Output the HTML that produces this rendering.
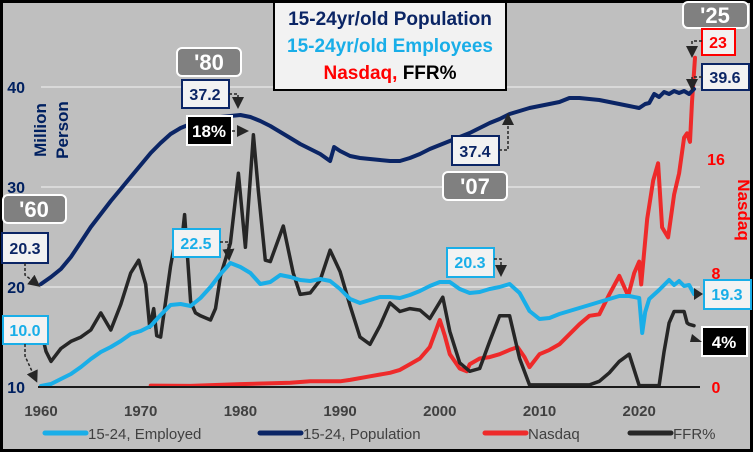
<!DOCTYPE html>
<html><head><meta charset="utf-8">
<style>
html,body{margin:0;padding:0;background:#bfbfbf;}
svg{display:block;font-family:"Liberation Sans",Arial,sans-serif;}
</style></head>
<body>
<svg id="chart" width="753" height="452" viewBox="0 0 753 452">
<rect x="1.5" y="1.5" width="750" height="449" fill="#bfbfbf" stroke="#000" stroke-width="3"/>
<g id="grid"></g>
<g id="series"></g>
<g id="axes"></g>
<g id="notes"></g>
</svg>
<script>
const popYears=[1960,1961,1962,1963,1964,1965,1966,1967,1968,1969,1970,1971,1972,1973,1974,1975,1976,1977,1978,1979,1980,1981,1982,1983,1984,1985,1986,1987,1988,1989,1989.4,1990,1991,1992,1993,1994,1995,1996,1997,1998,1999,2000,2001,2002,2003,2004,2005,2006,2007,2008,2009,2010,2011,2012,2013,2014,2015,2016,2017,2018,2019,2020,2020.6,2021,2021.5,2022,2022.5,2023,2023.5,2024,2024.5,2025,2025.5];
const popValues=[20.3,21,21.8,23,24.5,26,27.3,28.6,29.8,31,32.2,33.4,34.4,35.3,35.9,36.3,36.6,36.9,37,37.1,37.2,37,36.6,36.1,35.5,34.9,34.3,33.8,33.3,32.6,34,33.6,33.1,32.9,32.8,32.7,32.6,32.6,32.9,33.3,33.8,34.2,34.6,35,35.4,35.9,36.4,36.8,37.3,37.6,37.9,38.1,38.3,38.5,38.9,38.9,38.8,38.7,38.5,38.3,38.1,37.9,38.3,38.4,39.3,39,39.5,39.3,39.6,39.4,39.6,39.3,39.8];
const empYears=[1960,1961,1962,1963,1964,1965,1966,1967,1968,1969,1970,1971,1972,1973,1974,1975,1976,1977,1978,1979,1980,1981,1982,1983,1984,1985,1986,1987,1988,1989,1990,1991,1992,1993,1994,1995,1996,1997,1998,1999,2000,2001,2002,2003,2004,2005,2006,2007,2008,2009,2010,2011,2012,2013,2014,2015,2016,2017,2018,2019,2020,2020.3,2020.6,2021,2022,2023,2023.5,2024,2024.5,2025,2025.5];
const empValues=[10.1,10.3,10.8,11.3,12,12.8,13.5,14,14.6,15.3,15.6,16.1,17.2,18.2,18.3,18.1,18.9,20,21.3,22.4,22,21.4,20.3,20.5,21.2,21,20.7,20.6,20.8,20.6,19.8,18.8,18.4,18.7,19,19,18.9,19.2,19.6,20.1,20.5,20.5,19.8,19.4,19.5,19.8,20,20.3,19.4,17.6,16.8,16.9,17.3,17.6,17.9,18.2,18.5,18.8,19.1,19.1,18.9,15.4,17.5,18.8,19.7,20.7,20.2,20.6,20.1,20.2,19.3];
const nasYears=[1971,1975,1980,1985,1987,1990,1991,1993,1995,1996,1997,1998,1999,2000,2000.5,2001,2002,2002.7,2003,2004,2005,2006,2007,2007.8,2008.5,2009,2010,2011,2012,2013,2014,2015,2016,2017,2018,2018.9,2019.5,2020,2020.2,2020.8,2021.4,2021.9,2022.3,2022.9,2023.5,2024,2024.5,2024.8,2025.1,2025.3,2025.6];
const nasValues=[0.1,0.08,0.2,0.3,0.4,0.4,0.5,0.75,1.0,1.2,1.6,2.0,2.8,4.7,3.6,2.3,1.3,1.1,1.6,2.0,2.1,2.3,2.6,2.8,2.1,1.4,2.3,2.6,3.0,3.7,4.4,5.0,5.1,6.5,7.8,6.4,8.0,8.8,7.2,11.8,14.5,15.7,11.2,10.5,13.5,15,17.5,17.8,17.2,20,23.1];
const ffrYears=[1960,1960.5,1961,1962,1963,1964,1965,1966,1967,1968,1969,1969.8,1970.5,1970.9,1971.3,1971.6,1972,1973,1973.6,1974,1974.4,1975,1975.5,1976,1977,1977.5,1978,1979,1979.8,1980.5,1981.3,1981.8,1982.5,1983,1984.3,1985.3,1986,1987,1988,1989,1990,1991,1992,1993,1994,1995,1996,1997,1998,1999,2000.3,2001,2002,2003,2004,2005,2006,2007,2008,2009,2015,2016,2017,2018,2019,2020,2022,2022.5,2023,2023.5,2024.5,2024.8,2025,2025.5];
const ffrValues=[4.0,2.5,1.8,2.7,3.2,3.5,4.0,5.2,4.0,5.8,8.0,8.9,7.2,4.2,5.5,3.6,3.5,8.5,10.8,9.5,12.1,6.0,5.2,5.0,4.7,5.5,7.8,10.1,15.0,9.8,17.7,13.8,8.9,8.8,11.3,8.0,6.5,6.6,7.5,9.6,8.1,5.7,3.5,3.0,4.3,5.9,5.3,5.5,5.4,4.8,6.3,3.9,1.7,1.1,1.3,3.2,5.0,5.0,2.0,0.15,0.15,0.4,1.0,1.8,2.3,0.1,0.1,2.5,4.5,5.3,5.3,4.5,4.4,4.3];
const leftTicks=[10,20,30,40];
const rightTicks=[0,8,16];
const xTicks=[1960,1970,1980,1990,2000,2010,2020];

const NS="http://www.w3.org/2000/svg";
function X(yr){return 41+(yr-1960)*9.97;}
function YL(v){return 387-(v-10)*10;}
function YR(v){return 387-v*14.25;}
function mk(tag,attrs,parent,text){const e=document.createElementNS(NS,tag);for(const k in attrs)e.setAttribute(k,attrs[k]);if(text!==undefined)e.textContent=text;parent.appendChild(e);return e;}
const grid=document.getElementById('grid'),series=document.getElementById('series'),axes=document.getElementById('axes'),notes=document.getElementById('notes');

leftTicks.forEach(t=>{
  if(t>10){const g=mk('line',{x1:41,x2:700,y1:YL(t),y2:YL(t),stroke:'#d9d9d9','stroke-width':2},grid);
  
  }
  const l=mk('text',{x:25,y:YL(t)+6,'text-anchor':'end','font-size':16,'font-weight':'bold',fill:'#002060'},axes,String(t));
  
  
});
rightTicks.forEach(t=>{
  const l=mk('text',{x:716,y:YR(t)+6,'text-anchor':'middle','font-size':16,'font-weight':'bold',fill:'#ff0000'},axes,String(t));
  
  
});
xTicks.forEach(t=>{
  const l=mk('text',{x:X(t),y:416,'text-anchor':'middle','font-size':15,'font-weight':'bold',fill:'#404040'},axes,String(t));
  
  
});
const base=mk('line',{x1:38,x2:700,y1:387,y2:387,stroke:'#1a1a1a','stroke-width':2},axes);



function path(xs,vs,yf,color,w,name){
  const d=xs.map((x,i)=>(i?'L':'M')+X(x).toFixed(1)+','+yf(vs[i]).toFixed(1)).join('');
  const p=mk('path',{d:d,fill:'none',stroke:color,'stroke-width':w,'stroke-linejoin':'round','stroke-linecap':'round'},series);
  
  
}
path(nasYears,nasValues,YR,'#ee2a2a',4,'nasdaq-line');
path(ffrYears,ffrValues,YR,'#262626',3.5,'ffr-line');
path(empYears,empValues,YL,'#19aee8',4,'employed-line');
path(popYears,popValues,YL,'#0b2565',4,'population-line');
</script>
<div style="position:absolute;left:0;top:0;width:753px;height:452px;pointer-events:none;">
<svg width="753" height="452" viewBox="0 0 753 452" style="position:absolute;left:0;top:0" font-family="Liberation Sans, Arial, sans-serif">
<defs><marker id="ah" markerWidth="8" markerHeight="8" refX="6" refY="4" orient="auto"><path d="M0,0L8,4L0,8z" fill="#262626"/></marker></defs>
<text transform="translate(46,130) rotate(-90)" text-anchor="middle" font-size="17" font-weight="bold" fill="#002060">Million</text>
<text transform="translate(68,130) rotate(-90)" text-anchor="middle" font-size="17" font-weight="bold" fill="#002060">Person</text>
<text transform="translate(738,210) rotate(90)" text-anchor="middle" font-size="17" font-weight="bold" fill="#ff0000">Nasdaq</text>
<g>
<rect x="274" y="2" width="232" height="88" fill="#f2f2f2" stroke="#000" stroke-width="2"/>
<text x="390" y="25" text-anchor="middle" font-size="19" font-weight="bold" fill="#0b2565">15-24yr/old Population</text>
<text x="390" y="52" text-anchor="middle" font-size="19" font-weight="bold" fill="#19aee8">15-24yr/old Employees</text>
<text x="390" y="79" text-anchor="middle" font-size="19" font-weight="bold"><tspan fill="#ff0000">Nasdaq, </tspan><tspan fill="#000">FFR%</tspan></text>
</g>
<g font-weight="bold" text-anchor="middle">
<rect x="177" y="48" width="64" height="28" rx="5" fill="#808080" stroke="#fff" stroke-width="2"/><text x="209" y="70" font-size="22" fill="#fff">'80</text>
<rect x="3" y="195" width="63" height="28" rx="5" fill="#808080" stroke="#fff" stroke-width="2"/><text x="34" y="217" font-size="22" fill="#fff">'60</text>
<rect x="443" y="172" width="64" height="28" rx="5" fill="#808080" stroke="#fff" stroke-width="2"/><text x="475" y="194" font-size="22" fill="#fff">'07</text>
<rect x="683" y="2" width="65" height="26" rx="5" fill="#808080" stroke="#fff" stroke-width="2"/><text x="715" y="23" font-size="22" fill="#fff">'25</text>

<rect x="182" y="80" width="47" height="28" fill="#f2f2f2" stroke="#0b2565" stroke-width="2"/><text x="205" y="100" font-size="16" fill="#0b2565">37.2</text>
<rect x="187" y="116" width="45" height="29" fill="#000" stroke="#fff" stroke-width="2"/><text x="209" y="137" font-size="17" fill="#fff">18%</text>
<rect x="2" y="233" width="46" height="30" fill="#f2f2f2" stroke="#0b2565" stroke-width="2"/><text x="25" y="254" font-size="16" fill="#0b2565">20.3</text>
<rect x="3" y="316" width="45" height="28" fill="#f2f2f2" stroke="#19aee8" stroke-width="2"/><text x="25" y="336" font-size="16" fill="#19aee8">10.0</text>
<rect x="173" y="229" width="47" height="28" fill="#f2f2f2" stroke="#19aee8" stroke-width="2"/><text x="196" y="249" font-size="16" fill="#19aee8">22.5</text>
<rect x="447" y="248" width="47" height="29" fill="#f2f2f2" stroke="#19aee8" stroke-width="2"/><text x="470" y="268" font-size="16" fill="#19aee8">20.3</text>
<rect x="704" y="280" width="47" height="29" fill="#f2f2f2" stroke="#19aee8" stroke-width="2"/><text x="727" y="300" font-size="16" fill="#19aee8">19.3</text>
<rect x="702" y="327" width="45" height="29" fill="#000" stroke="#fff" stroke-width="2"/><text x="724" y="348" font-size="17" fill="#fff">4%</text>
<rect x="452" y="136" width="47" height="29" fill="#f2f2f2" stroke="#0b2565" stroke-width="2"/><text x="475" y="157" font-size="16" fill="#0b2565">37.4</text>
<rect x="702" y="29" width="33" height="26" fill="#f2f2f2" stroke="#ff0000" stroke-width="2"/><text x="718" y="48" font-size="16" fill="#ff0000">23</text>
<rect x="702" y="64" width="47" height="26" fill="#f2f2f2" stroke="#0b2565" stroke-width="2"/><text x="725" y="83" font-size="16" fill="#0b2565">39.6</text>
</g>
<g fill="none" stroke="#262626" stroke-width="1.5" stroke-dasharray="3,2" marker-end="url(#ah)">
<path d="M229,94 H238 V106"/>
<path d="M232,131 H246"/>
<path d="M25,263 V275 L38,285"/>
<path d="M25,344 V356 L36,380"/>
<path d="M220,242 H228 L229,258"/>
<path d="M494,259 H501 V274"/>
<path d="M499,150 H508 V116"/>
<path d="M702,41 H692 V55"/>
<path d="M702,77 H692 V88"/>
</g>
<g fill="#262626">
<path d="M703,294 L694,288 L694,300z"/>
<path d="M702,342 L692,334 L690,342z"/>
</g>
<g font-size="15" fill="#404040">
<line x1="45" y1="433" x2="86" y2="433" stroke="#19aee8" stroke-width="5" stroke-linecap="round"/><text x="88" y="439">15-24, Employed</text>
<line x1="260" y1="433" x2="301" y2="433" stroke="#0b2565" stroke-width="5" stroke-linecap="round"/><text x="303" y="439">15-24, Population</text>
<line x1="485" y1="433" x2="526" y2="433" stroke="#ee2a2a" stroke-width="5" stroke-linecap="round"/><text x="528" y="439">Nasdaq</text>
<line x1="630" y1="433" x2="671" y2="433" stroke="#262626" stroke-width="5" stroke-linecap="round"/><text x="673" y="439">FFR%</text>
</g>
</svg>
</div>
</body></html>
